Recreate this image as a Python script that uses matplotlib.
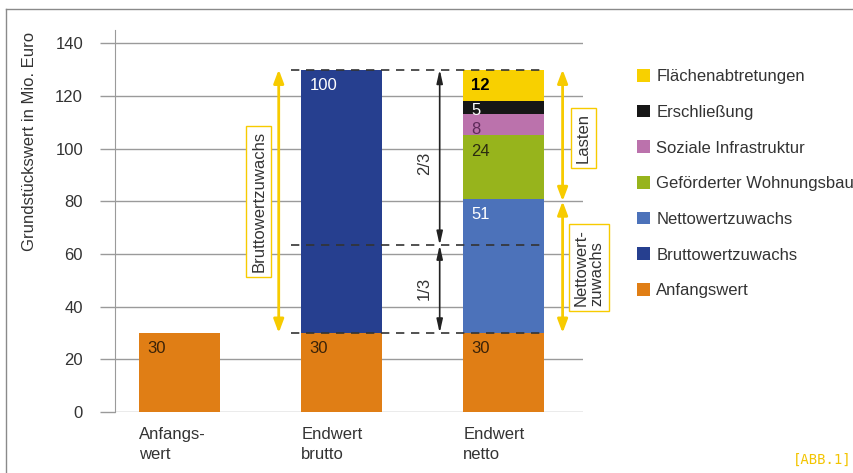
import matplotlib
matplotlib.use('Agg')
import matplotlib.pyplot as plt
import numpy as np
from matplotlib.lines import Line2D
from matplotlib.transforms import blended_transform_factory

plt.rcParams['font.family'] = ['Liberation Sans', 'DejaVu Sans']

# data
cats = ['Anfangs-\nwert', 'Endwert\nbrutto', 'Endwert\nnetto']
series = ['Anfangswert', 'Bruttowertzuwachs', 'Nettowertzuwachs',
          'Geförderter Wohnungsbau', 'Soziale Infrastruktur',
          'Erschließung', 'Flächenabtretungen']
anfang = [30, 30, 30]
brutto = [0, 100, 0]
netto = [0, 0, 51]
wohnbau = [0, 0, 24]
sozial = [0, 0, 8]
erschl = [0, 0, 5]
flaeche = [0, 0, 12]

colors = ['#E07E15', '#263F8F', '#4C72BA', '#97B41C', '#BB72AC', '#161616', '#F8D000']
txtcol = ['#3a2208', 'white', 'white', '#2b2b10', '#5e2a5a', 'white', 'black']
yel = '#F7CB00'
fs = 12

fig = plt.figure(figsize=(8.54, 4.73), dpi=100)
ax = fig.add_axes([115/854, 1-412/473, 468/854, 382/473])

x = np.arange(len(cats))
w = 0.5
px_per_unit = 382/145
bottom = np.zeros(3)
for vals, c, tc, name in zip([anfang, brutto, netto, wohnbau, sozial, erschl, flaeche],
                             colors, txtcol, series):
    vals = np.array(vals, dtype=float)
    ax.bar(x, vals, w, bottom=bottom, color=c, label=name, zorder=3)
    for xi, v, b in zip(x, vals, bottom):
        if v > 0:
            off = min(16, 0.7*v*px_per_unit) * 0.72
            ax.annotate(f'{v:g}', (xi - w/2, b + v), xytext=(6, -off),
                        textcoords='offset points', ha='left', va='center',
                        color=tc, fontsize=fs,
                        fontweight='bold' if name == 'Flächenabtretungen' else 'normal',
                        zorder=5)
    bottom += vals

ax.set_xlim(-0.4, 2.49)
ax.set_ylim(0, 145)
ax.set_yticks(range(0, 141, 20))
ax.set_xticks([])
ax.grid(axis='y', color='#9a9a9a', lw=1, zorder=1)
ax.tick_params(axis='y', length=11, color='#9a9a9a', width=1, pad=12,
               labelsize=12, labelcolor='#333333')
for s in ['top', 'right', 'bottom']:
    ax.spines[s].set_visible(False)
ax.spines['left'].set_color('#9a9a9a')

trans = blended_transform_factory(ax.transData, ax.transAxes)
for xi, c in zip(x, cats):
    ax.text(xi - w/2, -0.04, c, transform=trans, ha='left', va='top',
            fontsize=fs, color='#333333', linespacing=1.4)

# dashed reference lines
top = 130
third = 30 + 100/3
ax.hlines([top, third, 30], 0.685, 2.25, colors='#333333', linestyles=(0, (5, 4)),
          lw=1.2, zorder=4)

def darrow(xp, y0, y1, col, lw, hw):
    ax.annotate('', xy=(xp, y1), xytext=(xp, y0),
                arrowprops=dict(arrowstyle=f'<|-|>,head_length=0.8,head_width={hw}',
                                color=col, lw=lw, shrinkA=0, shrinkB=0),
                annotation_clip=False, zorder=6)

darrow(1.605, third, top, '#222222', 1.2, 0.18)
darrow(1.605, 30, third, '#222222', 1.2, 0.18)
ax.text(1.51, 94.5, '2/3', rotation=90, ha='center', va='center', fontsize=fs, color='#333333')
ax.text(1.51, 47, '1/3', rotation=90, ha='center', va='center', fontsize=fs, color='#333333')

darrow(0.611, 30, top, yel, 2, 0.3)
darrow(2.364, 80, top, yel, 2, 0.3)
darrow(2.364, 30, 80, yel, 2, 0.3)

box = dict(boxstyle='square,pad=0.3', fc='white', ec=yel, lw=1)
ax.text(0.488, 80, 'Bruttowertzuwachs', rotation=90, ha='center', va='center',
        fontsize=fs, color='#333333', bbox=box, zorder=7)
ax.text(2.49, 104, 'Lasten', rotation=90, ha='center', va='center',
        fontsize=fs, color='#333333', bbox=box, zorder=7, clip_on=False)
ax.text(2.527, 55, 'Nettowert-\nzuwachs', rotation=90, ha='center', va='center',
        fontsize=fs, color='#333333', bbox=box, zorder=7, clip_on=False,
        linespacing=1.0, multialignment='left')

handles, labels = ax.get_legend_handles_labels()
ax.legend(handles[::-1], labels[::-1], loc='upper left',
          bbox_to_anchor=(637/854, 1-69/473), bbox_transform=fig.transFigure,
          frameon=False, fontsize=fs, handlelength=0.8, handleheight=0.8,
          handletextpad=0.35, labelspacing=1.23, borderpad=0, borderaxespad=0,
          labelcolor='#333333')

fig.text(30/854, 1-141/473, 'Grundstückswert in Mio. Euro', rotation=90,
         ha='center', va='center', fontsize=fs, color='#333333')

fig.add_artist(Line2D([6/854, 1], [1-9/473]*2, color='#8a8a8a', lw=1))
fig.add_artist(Line2D([6/854]*2, [0, 1-9/473], color='#8a8a8a', lw=1))
fig.text(0.997, 0.012, '[ABB.1]', ha='right', va='bottom', color='#F3C400',
         fontsize=10, family='DejaVu Sans Mono')

fig.savefig('out.png', dpi=100)
